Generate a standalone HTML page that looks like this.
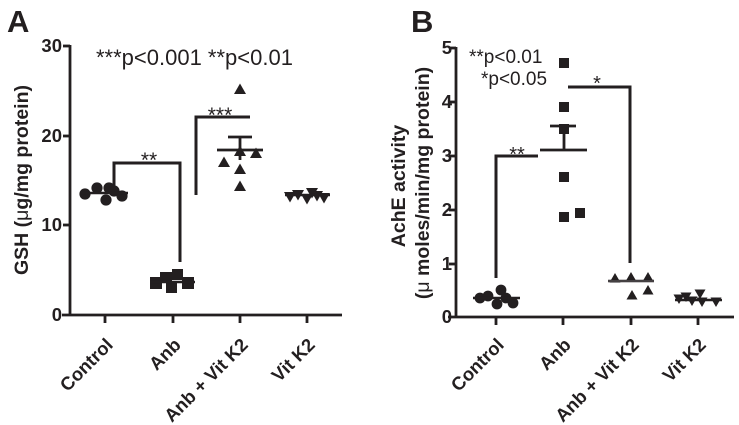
<!DOCTYPE html>
<html><head><meta charset="utf-8"><style>
html,body{margin:0;padding:0;background:#fff;}
svg{display:block;}
text{font-family:"Liberation Sans",Arial,sans-serif;fill:#231f20;}
</style></head><body>
<svg width="739" height="425" viewBox="0 0 739 425" xmlns="http://www.w3.org/2000/svg">
<defs>
<path id="tri" d="M0,-5.5 L6,5 L-6,5 Z"/>
<path id="itri" d="M0,5.5 L6,-5 L-6,-5 Z"/>
<path id="triB" d="M0,-5 L5.5,4.5 L-5.5,4.5 Z"/>
<path id="itriB" d="M0,5 L5.5,-4.5 L-5.5,-4.5 Z"/>
</defs>
<g fill="#231f20" stroke="none">
<!-- ===== Panel A ===== -->
<text x="7" y="32" font-size="31" font-weight="bold">A</text>
<g stroke="#231f20" stroke-width="2.8" fill="none">
<line x1="70" y1="45" x2="70" y2="316"/>
<line x1="62" y1="315" x2="342" y2="315"/>
<line x1="63" y1="46" x2="70" y2="46"/>
<line x1="63" y1="136" x2="70" y2="136"/>
<line x1="63" y1="225" x2="70" y2="225"/>
<line x1="105" y1="315" x2="105" y2="323"/>
<line x1="173" y1="315" x2="173" y2="323"/>
<line x1="240" y1="315" x2="240" y2="323"/>
<line x1="307" y1="315" x2="307" y2="323"/>
</g>
<g font-size="18.5" font-weight="bold" text-anchor="end">
<text x="62" y="52">30</text>
<text x="62" y="142">20</text>
<text x="62" y="231">10</text>
<text x="62" y="321">0</text>
</g>
<text transform="translate(28,180) rotate(-90)" font-size="19.5" font-weight="bold" text-anchor="middle">GSH (<tspan font-weight="normal">μ</tspan>g/mg protein)</text>
<g font-size="18.5" font-weight="bold" text-anchor="end">
<text transform="translate(114,346) rotate(-45)">Control</text>
<text transform="translate(182,346) rotate(-45)">Anb</text>
<text transform="translate(249,346) rotate(-45)">Anb + Vit K2</text>
<text transform="translate(316,346) rotate(-45)">Vit K2</text>
</g>
<text x="96" y="65" font-size="22">***p&lt;0.001 **p&lt;0.01</text>
<!-- brackets -->
<g stroke="#231f20" stroke-width="3" fill="none">
<polyline points="114,193 114,163 180,163 180,262"/>
<polyline points="196,195 196,117 250,117"/>
</g>
<text x="149" y="167" font-size="21" text-anchor="middle">**</text>
<text x="220" y="122" font-size="21" text-anchor="middle">***</text>
<!-- Control circles -->
<circle cx="85" cy="194" r="5.6"/>
<circle cx="97" cy="188" r="5.6"/>
<circle cx="106" cy="200" r="5.6"/>
<circle cx="109" cy="188" r="5.6"/>
<circle cx="114" cy="191" r="5.6"/>
<circle cx="122" cy="196" r="5.6"/>
<line x1="82" y1="193" x2="128" y2="193" stroke="#231f20" stroke-width="2.6"/>
<!-- Anb squares -->
<rect x="150" y="277" width="12" height="12"/>
<rect x="160" y="272" width="12" height="11"/>
<rect x="172" y="269" width="11" height="11"/>
<rect x="166" y="282" width="11" height="11"/>
<rect x="182" y="277" width="12" height="12"/>
<line x1="150" y1="282" x2="195" y2="282" stroke="#231f20" stroke-width="2.6"/>
<!-- Anb + Vit K2 triangles -->
<use href="#tri" x="240" y="89"/>
<use href="#tri" x="224" y="162"/>
<use href="#tri" x="240" y="169"/>
<use href="#tri" x="256" y="153"/>
<use href="#tri" x="240" y="186"/>
<use href="#tri" x="240" y="151"/>
<g stroke="#231f20" stroke-width="2.8">
<line x1="217" y1="150" x2="263" y2="150"/>
<line x1="240" y1="137" x2="240" y2="160"/>
<line x1="228" y1="137" x2="252" y2="137"/>
</g>
<!-- Vit K2 inverted triangles -->
<use href="#itri" x="290" y="197"/>
<use href="#itri" x="298" y="195"/>
<use href="#itri" x="307" y="199"/>
<use href="#itri" x="312" y="193"/>
<use href="#itri" x="317" y="196"/>
<use href="#itri" x="324" y="198"/>
<line x1="285" y1="195" x2="330" y2="195" stroke="#231f20" stroke-width="2.6"/>

<!-- ===== Panel B ===== -->
<text x="411" y="32" font-size="31" font-weight="bold">B</text>
<g stroke="#231f20" stroke-width="2.8" fill="none">
<line x1="456" y1="47" x2="456" y2="318"/>
<line x1="448" y1="317" x2="734" y2="317"/>
<line x1="449" y1="48" x2="456" y2="48"/>
<line x1="449" y1="102" x2="456" y2="102"/>
<line x1="449" y1="156" x2="456" y2="156"/>
<line x1="449" y1="210" x2="456" y2="210"/>
<line x1="449" y1="264" x2="456" y2="264"/>
<line x1="496" y1="317" x2="496" y2="325"/>
<line x1="563" y1="317" x2="563" y2="325"/>
<line x1="631" y1="317" x2="631" y2="325"/>
<line x1="698" y1="317" x2="698" y2="325"/>
</g>
<g font-size="18.5" font-weight="bold" text-anchor="end">
<text x="452" y="54">5</text>
<text x="452" y="108">4</text>
<text x="452" y="162">3</text>
<text x="452" y="216">2</text>
<text x="452" y="270">1</text>
<text x="452" y="323">0</text>
</g>
<text transform="translate(405,186) rotate(-90)" font-size="19.5" font-weight="bold" text-anchor="middle">AchE activity</text>
<text transform="translate(429,183) rotate(-90)" font-size="19.5" font-weight="bold" text-anchor="middle">(<tspan font-weight="normal">μ</tspan> moles/min/mg protein)</text>
<g font-size="18.5" font-weight="bold" text-anchor="end">
<text transform="translate(505,346) rotate(-45)">Control</text>
<text transform="translate(572,346) rotate(-45)">Anb</text>
<text transform="translate(640,346) rotate(-45)">Anb + Vit K2</text>
<text transform="translate(707,346) rotate(-45)">Vit K2</text>
</g>
<text x="469" y="63" font-size="19">**p&lt;0.01</text>
<text x="481" y="85" font-size="19">*p&lt;0.05</text>
<g stroke="#231f20" stroke-width="3" fill="none">
<polyline points="496,278 496,156 538,156"/>
<polyline points="568,87 630,87 630,263"/>
</g>
<text x="517" y="161" font-size="20" text-anchor="middle">**</text>
<text x="597" y="90" font-size="20" text-anchor="middle">*</text>
<!-- Control circles -->
<circle cx="480" cy="298" r="5.4"/>
<circle cx="488" cy="296" r="5.4"/>
<circle cx="501" cy="290" r="5.4"/>
<circle cx="497" cy="304" r="5.4"/>
<circle cx="506" cy="298" r="5.4"/>
<circle cx="513" cy="303" r="5.4"/>
<line x1="473" y1="298" x2="520" y2="298" stroke="#231f20" stroke-width="2.6"/>
<!-- Anb squares -->
<rect x="559" y="58" width="10" height="10"/>
<rect x="559" y="102" width="10" height="10"/>
<rect x="559" y="124" width="10" height="10"/>
<rect x="559" y="172" width="10" height="10"/>
<rect x="559" y="212" width="10" height="10"/>
<rect x="575" y="208" width="10" height="10"/>
<g stroke="#231f20" stroke-width="2.8">
<line x1="540" y1="150" x2="587" y2="150"/>
<line x1="564" y1="126" x2="564" y2="150"/>
<line x1="550" y1="126" x2="576" y2="126"/>
</g>
<!-- Anb + Vit K2 triangles -->
<use href="#triB" x="615" y="278"/>
<use href="#triB" x="631" y="277"/>
<use href="#triB" x="648" y="277"/>
<use href="#triB" x="632" y="295"/>
<use href="#triB" x="648" y="290"/>
<line x1="608" y1="281" x2="654" y2="281" stroke="#231f20" stroke-width="2.6"/>
<line x1="608" y1="281" x2="654" y2="281" stroke="#ffffff" stroke-width="0.6" opacity="0.6"/>
<!-- Vit K2 inverted triangles -->
<use href="#itriB" x="679" y="299"/>
<use href="#itriB" x="686" y="297"/>
<use href="#itriB" x="692" y="301"/>
<use href="#itriB" x="700" y="294"/>
<use href="#itriB" x="702" y="302"/>
<use href="#itriB" x="716" y="302"/>
<line x1="675" y1="300" x2="722" y2="300" stroke="#231f20" stroke-width="2.6"/>
</g>
</svg>
</body></html>
